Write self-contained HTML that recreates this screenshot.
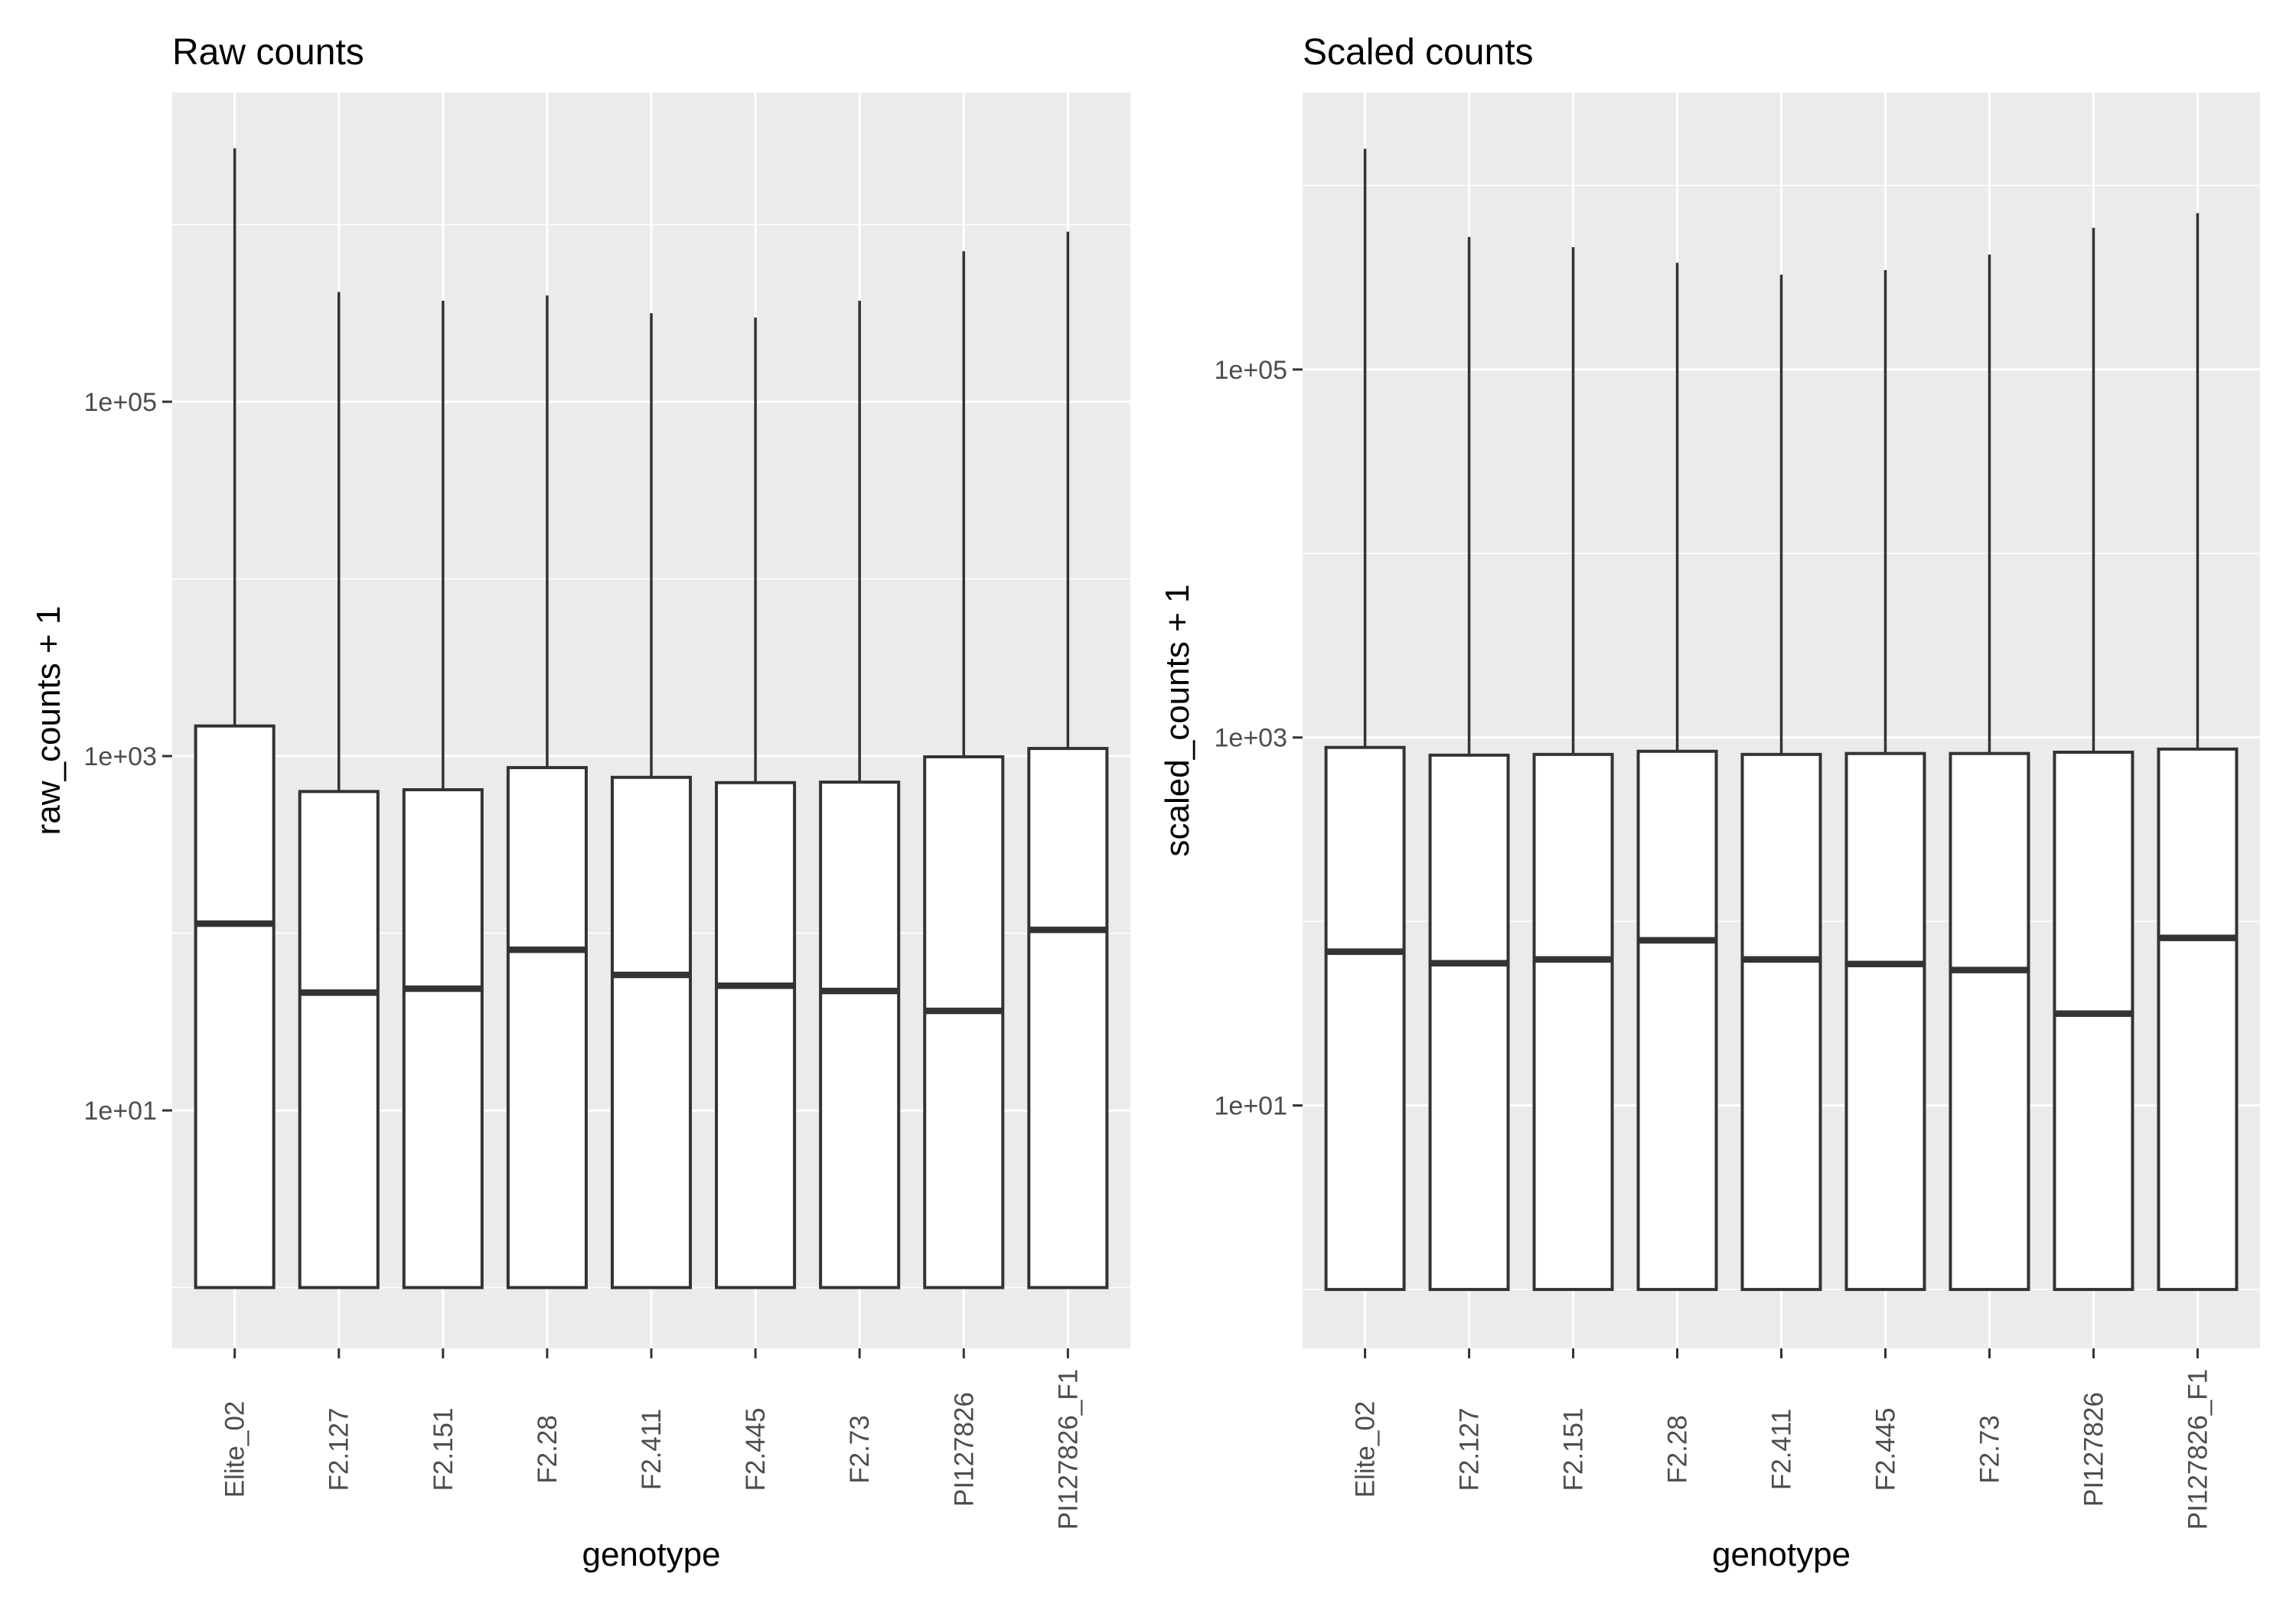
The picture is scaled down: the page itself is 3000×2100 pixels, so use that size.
<!DOCTYPE html>
<html><head><meta charset="utf-8"><style>
html,body{margin:0;padding:0;background:#fff;}
svg{display:block;font-family:"Liberation Sans",sans-serif;}
</style></head><body>
<svg id="chart" width="3000" height="2100" viewBox="0 0 3000 2100" xmlns="http://www.w3.org/2000/svg"></svg>
<script>
const categories = ["Elite_02","F2.127","F2.151","F2.28","F2.411","F2.445","F2.73","PI127826","PI127826_F1"];
// log10 values (counts + 1)
const rawWhiskerTop = [6.43,5.62,5.57,5.60,5.50,5.475,5.57,5.85,5.96];
const rawQ3 = [3.17,2.80,2.81,2.935,2.88,2.85,2.853,2.996,3.043];
const rawMedian = [2.054,1.665,1.687,1.907,1.765,1.704,1.674,1.562,2.019];
const rawQ1 = [0,0,0,0,0,0,0,0,0];
const scaledWhiskerTop = [6.20,5.72,5.665,5.58,5.515,5.54,5.625,5.77,5.85];
const scaledQ3 = [2.946,2.904,2.908,2.925,2.908,2.913,2.913,2.92,2.937];
const scaledMedian = [1.836,1.773,1.794,1.898,1.794,1.769,1.736,1.499,1.911];
const scaledQ1 = [0,0,0,0,0,0,0,0,0];
const majorTicks = [1,3,5];
const majorTickLabels = ["1e+01","1e+03","1e+05"];
const minorTicks = [0,2,4,6];

const svg = document.getElementById('chart');
const NS = 'http://www.w3.org/2000/svg';
function mk(tag, attrs, parent){const e=document.createElementNS(NS,tag);for(const k in attrs)e.setAttribute(k,attrs[k]);(parent||svg).appendChild(e);return e;}

function panel(cfg){
  const g = mk('g',{});
  
  
  const {x0,x1,y0,y1,lmin,lmax}=cfg;
  const yS = v => y1 - (v - lmin)/(lmax-lmin)*(y1-y0);
  const n = categories.length;
  const step = (x1-x0)/(n-1+1.2);
  const xS = i => x0 + (i+0.6)*step;
  const bg = mk('rect',{x:x0,y:y0,width:x1-x0,height:y1-y0,fill:'#EBEBEB'},g);
  
  
  minorTicks.forEach(t=>{const l=mk('line',{x1:x0,x2:x1,y1:yS(t),y2:yS(t),stroke:'#fff','stroke-width':1.5},g);
    });
  majorTicks.forEach(t=>{const l=mk('line',{x1:x0,x2:x1,y1:yS(t),y2:yS(t),stroke:'#fff','stroke-width':3},g);
    });
  categories.forEach((c,i)=>{const l=mk('line',{x1:xS(i),x2:xS(i),y1:y0,y2:y1,stroke:'#fff','stroke-width':3},g);
    });
  const bw = step*0.75;
  categories.forEach((c,i)=>{
    const bx = mk('g',{},g);
    
    
    const cx=xS(i);
    mk('line',{x1:cx,x2:cx,y1:yS(cfg.wt[i]),y2:yS(cfg.q3[i]),stroke:'#333','stroke-width':3.5},bx);
    mk('rect',{x:cx-bw/2,y:yS(cfg.q3[i]),width:bw,height:yS(cfg.q1[i])-yS(cfg.q3[i]),fill:'#fff',stroke:'#333','stroke-width':4},bx);
    mk('line',{x1:cx-bw/2,x2:cx+bw/2,y1:yS(cfg.med[i]),y2:yS(cfg.med[i]),stroke:'#333','stroke-width':8.5},bx);
    const tk=mk('line',{x1:cx,x2:cx,y1:y1,y2:y1+13,stroke:'#333','stroke-width':3},g);
    
    const tl=mk('text',{x:0,y:0,transform:`translate(${cx+12},1894) rotate(-90)`,'text-anchor':'middle','font-size':35,fill:'#4D4D4D'},g);
    tl.textContent=c;
    
  });
  majorTicks.forEach((t,k)=>{
    const tk=mk('line',{x1:x0-13,x2:x0,y1:yS(t),y2:yS(t),stroke:'#333','stroke-width':3},g);
    
    const tl=mk('text',{x:x0-20,y:yS(t)+12,'text-anchor':'end','font-size':34,fill:'#4D4D4D'},g);
    tl.textContent=majorTickLabels[k];
    
  });
  const ti=mk('text',{x:x0,y:84,'font-size':48,fill:'#000'},g);ti.textContent=cfg.title;
  
  const yt=mk('text',{x:0,y:0,transform:`translate(${cfg.ytx},${(y0+y1)/2}) rotate(-90)`,'text-anchor':'middle','font-size':44,fill:'#000'},g);
  yt.textContent=cfg.ytitle;
  
  const xt=mk('text',{x:(x0+x1)/2,y:2046,'text-anchor':'middle','font-size':44,fill:'#000'},g);
  xt.textContent='genotype';
  
}
panel({name:'raw-counts-panel',title:'Raw counts',ytitle:'raw_counts + 1',ytx:78,x0:225,x1:1477,y0:121,y1:1762,lmin:-0.343,lmax:6.745,
  wt:rawWhiskerTop,q3:rawQ3,med:rawMedian,q1:rawQ1});
panel({name:'scaled-counts-panel',title:'Scaled counts',ytitle:'scaled_counts + 1',ytx:1553,x0:1702,x1:2953,y0:121,y1:1762,lmin:-0.32,lmax:6.505,
  wt:scaledWhiskerTop,q3:scaledQ3,med:scaledMedian,q1:scaledQ1});
</script>
</body></html>
